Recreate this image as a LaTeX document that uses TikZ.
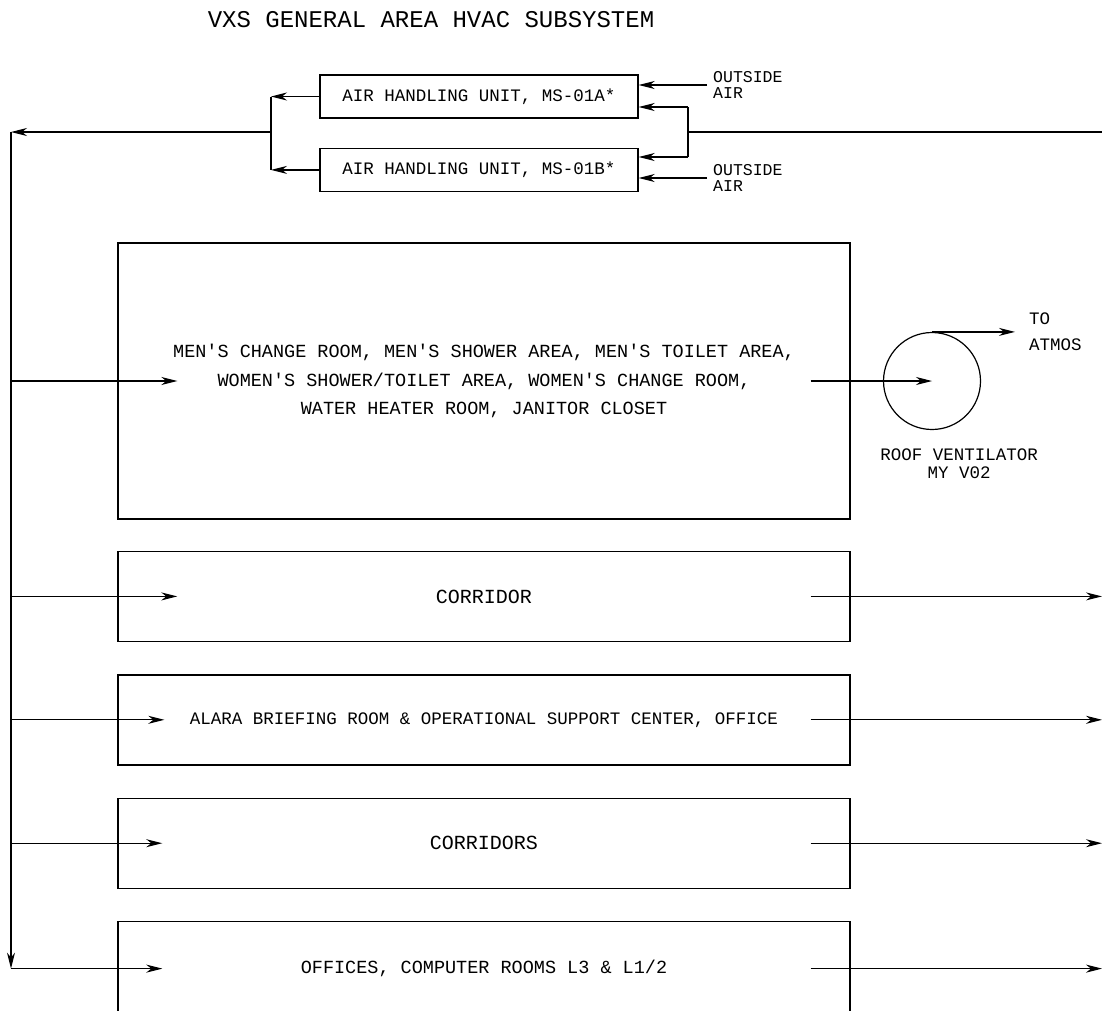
\documentclass[tikz,border=0pt]{standalone}
\usepackage{fontspec}
\newfontfamily\cadfont{Liberation Mono}
\usetikzlibrary{positioning,arrows.meta}

\begin{document}
\begin{tikzpicture}[
    x=1pt, y=-1pt,
    node distance=32pt,
    ahu/.style={rectangle, draw, line width=1.4pt, minimum width=318pt, minimum height=43pt, font=\cadfont\fontsize{17.5}{20}\selectfont},
    room/.style={rectangle, draw, line width=1.4pt, minimum width=732pt, minimum height=90pt, align=center, font=\cadfont\fontsize{18.5}{28.5}\selectfont},
    tag/.style={inner sep=0pt, align=left, font=\cadfont\fontsize{16.5}{16}\selectfont},
    flow/.style={line width=1.2pt, -{Stealth[length=16pt,width=8pt,inset=5pt]}},
    duct/.style={line width=1.2pt},
]
\useasboundingbox (0,0) rectangle (1102,1010);

% Title
\node[font=\cadfont\fontsize{24}{28}\selectfont] (title) at (431,20) {VXS GENERAL AREA HVAC SUBSYSTEM};

% Air handling units
\node[ahu] (ahuA) at (479,96.5) {AIR HANDLING UNIT, MS-01A*};
\node[ahu, below=29pt of ahuA] (ahuB) {AIR HANDLING UNIT, MS-01B*};

% Outside air
\node[tag, anchor=west] (oaA) at (713,85) {OUTSIDE\\AIR};
\node[tag, anchor=west] (oaB) at (713,178) {OUTSIDE\\AIR};

% Rooms
\node[room, minimum height=276pt] (change) at (484,381) {MEN'S CHANGE ROOM, MEN'S SHOWER AREA, MEN'S TOILET AREA,\\WOMEN'S SHOWER/TOILET AREA, WOMEN'S CHANGE ROOM,\\WATER HEATER ROOM, JANITOR CLOSET};
\node[room, below=31pt of change, font=\cadfont\fontsize{20}{24}\selectfont] (corr) {CORRIDOR};
\node[room, below=of corr, font=\cadfont\fontsize{17.5}{24}\selectfont] (alara) {ALARA BRIEFING ROOM \& OPERATIONAL SUPPORT CENTER, OFFICE};
\node[room, below=of alara, font=\cadfont\fontsize{20}{24}\selectfont] (corrs) {CORRIDORS};
\node[room, below=of corrs, minimum height=94pt] (offices) {OFFICES, COMPUTER ROOMS L3 \& L1/2};

% Roof ventilator
\node[circle, draw, line width=1.2pt, minimum size=97pt, inner sep=0pt] (fan) at (932,381) {};
\node[tag, align=center, font=\cadfont\fontsize{17.5}{18}\selectfont] (fanlbl) at (959,464) {ROOF VENTILATOR\\MY V02};
\node[tag, anchor=west, font=\cadfont\fontsize{17.5}{26}\selectfont] (atmos) at (1029,332) {TO\\ATMOS};

% Junctions
\coordinate (retA) at (688,107);
\coordinate (retB) at (688,157);
\coordinate (retIn) at (1102,132);
\coordinate (supX) at (271,132);
\coordinate (trunkTop) at (11,132);
\coordinate (edge) at (1102,0);

% Return and outside air
\draw[duct] (retIn) -- (retIn -| retA);
\draw[duct] (retA) -- (retB);
\draw[flow] (retA) -- (retA -| ahuA.east);
\draw[flow] (retB) -- (retB -| ahuB.east);
\draw[flow] ([xshift=-6pt]oaA.west) -- (oaA.west -| ahuA.east);
\draw[flow] ([xshift=-6pt]oaB.west) -- (oaB.west -| ahuB.east);

% Supply
\draw[flow] (ahuA.west) -- (ahuA.west -| supX);
\draw[flow] (ahuB.west) -- (ahuB.west -| supX);
\draw[duct] (ahuA.west -| supX) -- (ahuB.west -| supX);
\draw[flow] (supX) -- (trunkTop);
\draw[flow] (trunkTop) -- (trunkTop |- offices.west);
\foreach \r/\d in {change/60, corr/60, alara/47, corrs/45, offices/45}
    \draw[flow] (trunkTop |- \r.west) -- ([xshift=\d pt]\r.west);

% Exhaust
\draw[flow] ([xshift=-40pt]change.east) -- (fan.center);
\draw[flow] (fan.north) -- ([xshift=-14pt]atmos.west |- fan.north);
\foreach \r in {corr, alara, corrs, offices}
    \draw[flow] ([xshift=-40pt]\r.east) -- (edge |- \r.east);

\end{tikzpicture}
\end{document}
